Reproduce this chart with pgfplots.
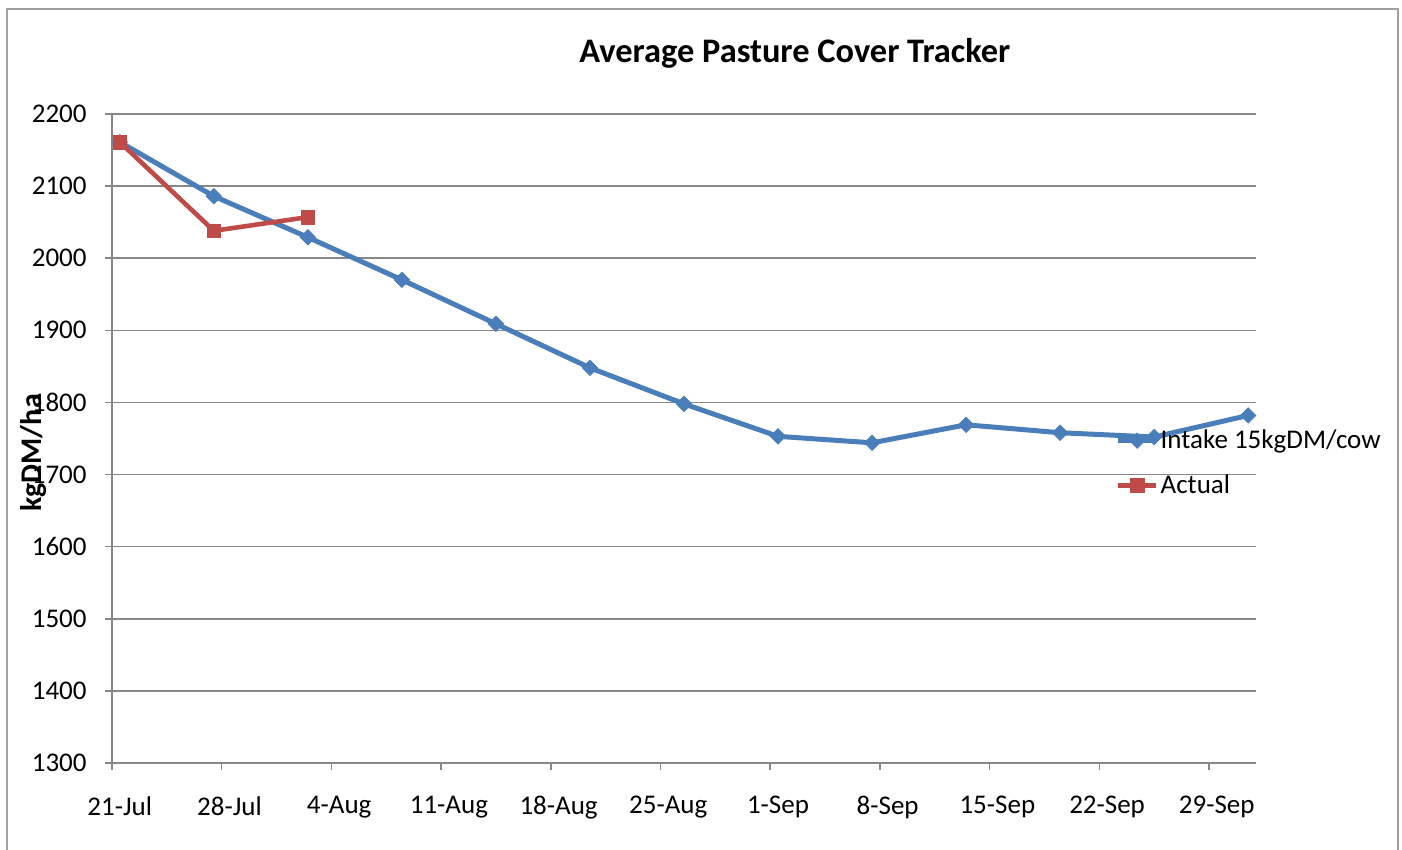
\documentclass[border=0pt]{standalone}
\usepackage{fontspec}
\setmainfont{Carlito}
\usepackage{pgfplots}
\pgfplotsset{compat=1.18}
\definecolor{sblue}{HTML}{4A7EBB}
\definecolor{sred}{HTML}{BE4B48}
\definecolor{gridc}{HTML}{878787}
\definecolor{framec}{HTML}{A0A0A0}
\begin{document}
\begin{tikzpicture}
\begin{axis}[
  scale only axis, width=572pt, height=324.5pt,
  xmin=0, xmax=73, ymin=1300, ymax=2200,
  axis lines=left,
  axis line style={-, draw=gridc, line width=0.75pt},
  xtick={0,7,...,70},
  xticklabels={21-Jul,28-Jul,4-Aug,11-Aug,18-Aug,25-Aug,1-Sep,8-Sep,15-Sep,22-Sep,29-Sep},
  ytick={1300,1400,...,2200},
  ymajorgrids,
  grid style={draw=gridc, line width=0.75pt},
  tick align=outside,
  major tick length=3.5pt,
  tick style={draw=gridc, line width=0.75pt},
  /pgf/number format/1000 sep={},
  /pgf/number format/assume math mode=true,
  tick label style={font=\fontsize{13.5}{16}\selectfont, text=black},
  xticklabel style={inner sep=0pt, anchor=north, xshift=3.9pt, yshift=-13pt},
  yticklabel style={inner sep=0pt, anchor=east, xshift=-9pt},
  title={Average Pasture Cover Tracker},
  title style={at={(rel axis cs:0.597,1.075)}, anchor=center, font=\fontsize{17.2}{20}\selectfont\bfseries},
  ylabel={kgDM/ha},
  every axis y label/.style={at={(rel axis cs:-0.069,0.4777)}, rotate=90, anchor=center, font=\fontsize{15}{17}\selectfont\bfseries},
  legend style={draw=none, fill=none, at={(rel axis cs:0.877,0.4622)}, anchor=west,
    font=\fontsize{13.5}{16}\selectfont, row sep=9.5pt, inner sep=0pt,
    nodes={inner sep=1pt}},
  legend cell align=left,
  legend image code/.code={\draw[mark repeat=2,mark phase=2,#1] plot coordinates {(0pt,0pt) (9.5pt,0pt) (19pt,0pt)};},
  clip=false,
]
\addplot[sblue, line width=2.5pt, mark=square*, mark size=2.7pt,
  mark options={solid, rotate=45, fill=sblue, draw=sblue, line width=0.4pt}]
  coordinates {(0.5,2161)(6.5,2086)(12.5,2029)(18.5,1970)(24.5,1909)(30.5,1848)(36.5,1798)(42.5,1753)(48.5,1744)(54.5,1769)(60.5,1758)(66.5,1752)(72.5,1782)};
\addlegendentry{Intake 15kgDM/cow}
\addplot[sred, line width=2.3pt, mark=square*, mark size=3.4pt,
  mark options={solid, fill=sred, draw=sred, line width=0.4pt}]
  coordinates {(0.5,2161)(6.5,2038)(12.5,2057)};
\addlegendentry{Actual}
\end{axis}
\draw[framec, line width=1pt] ([shift={(-52.5pt,-50pt)}]current axis.south west) rectangle ([shift={(71pt,52.5pt)}]current axis.north east);
\pgfresetboundingbox
\useasboundingbox ([shift={(-56pt,-43.5pt)}]current axis.south west) rectangle ([shift={(73pt,57pt)}]current axis.north east);
\end{tikzpicture}
\end{document}
